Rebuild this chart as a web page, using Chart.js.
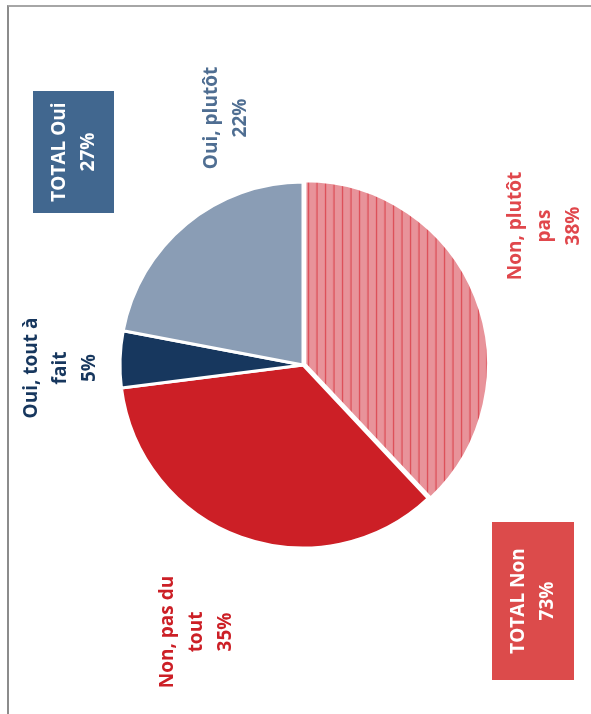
<!DOCTYPE html>
<html>
<head>
<meta charset="utf-8">
<script src="https://cdn.jsdelivr.net/npm/chart.js@4.4.0/dist/chart.umd.min.js"></script>
<style>
  body { margin: 0; background: #fff; }
  #wrap { position: relative; width: 591px; height: 714px; }
  #frame { position: absolute; left: 7px; top: 5px; right: 0; bottom: 0; border-top: 2px solid #a6a6a6; border-left: 2px solid #8c8c8c; }
  canvas { position: absolute; left: 0; top: 0; }
</style>
</head>
<body>
<div id="wrap">
  <div id="frame"></div>
  <canvas id="pieChart" width="591" height="714"></canvas>
</div>
<script>
// Data
const labels = ['Non, plutôt pas', 'Non, pas du tout', 'Oui, tout à fait', 'Oui, plutôt'];
const values = [38, 35, 5, 22];
const totalLabels = ['TOTAL Oui', 'TOTAL Non'];
const totalValues = [27, 73];

// hatched pink fill for "Non, plutôt pas"
function makeHatch() {
    const c = document.createElement('canvas');
    c.width = 8.5 * 2;
    c.height = 10;
    const g = c.getContext('2d');
    g.fillStyle = '#e8939a';
    g.fillRect(0, 0, c.width, c.height);
    g.fillStyle = '#dc4a53';
    g.fillRect(0, 0, 1.2, c.height);
    g.fillRect(8.5, 0, 1.2, c.height);
    return g.createPattern(c, 'repeat');
}

const ctx = document.getElementById('pieChart').getContext('2d');

// labels are drawn rotated a quarter turn, as in the original
const rotatedText = {
    id: 'rotatedText',
    afterDraw(chart) {
        const c = chart.ctx;
        const font = 'bold 19px "Open Sans", Lato, sans-serif';
        const lineH = 29;

        function block(x, y, lines, color) {
            c.save();
            c.translate(x, y);
            c.rotate(-Math.PI / 2);
            c.fillStyle = color;
            c.font = font;
            c.textAlign = 'center';
            c.textBaseline = 'middle';
            const start = -(lines.length - 1) * lineH / 2;
            lines.forEach((l, i) => c.fillText(l, 0, start + i * lineH));
            c.restore();
        }

        // total boxes
        c.save();
        c.fillStyle = '#41678f';
        c.fillRect(33, 91, 81, 122);
        c.fillStyle = '#dc4b4b';
        c.fillRect(492, 522, 82, 158);
        c.restore();
        block(74, 152, [totalLabels[0], totalValues[0] + '%'], '#ffffff');
        block(533, 601, [totalLabels[1], totalValues[1] + '%'], '#ffffff');

        // slice labels
        block(545, 226, ['Non, plutôt', 'pas', values[0] + '%'], '#e0474c');
        block(197, 632, ['Non, pas du', 'tout', values[1] + '%'], '#cc1f26');
        block(61, 368, ['Oui, tout à', 'fait', values[2] + '%'], '#17375e');
        block(226, 118, ['Oui, plutôt', values[3] + '%'], '#4f6e92');
    }
};

new Chart(ctx, {
    type: 'pie',
    data: {
        labels: labels,
        datasets: [{
            data: values,
            backgroundColor: [makeHatch(), '#cc1f26', '#17375e', '#8a9db5'],
            borderColor: '#ffffff',
            borderWidth: 3,
            offset: [8, 0, 0, 0]
        }]
    },
    options: {
        responsive: false,
        animation: false,
        radius: 183,
        layout: { padding: { left: 15, right: 0, top: 16, bottom: 0 } },
        plugins: {
            legend: { display: false },
            tooltip: { enabled: false }
        }
    },
    plugins: [rotatedText]
});
</script>
</body>
</html>
